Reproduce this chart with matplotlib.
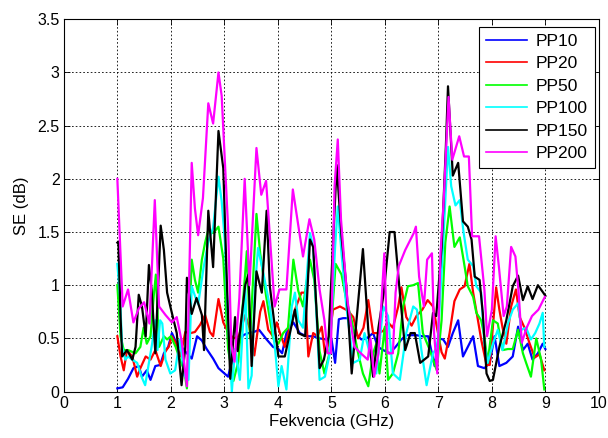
import matplotlib
matplotlib.use("Agg")
import matplotlib.pyplot as plt

plt.rcParams['font.family'] = ['Liberation Sans', 'DejaVu Sans']

# ---- data (frequency in GHz, SE in dB) ----
f_pp10 = [1.0, 1.1, 1.2, 1.3, 1.4, 1.46, 1.55, 1.62, 1.71, 1.8, 1.87, 1.95, 2.02, 2.11, 2.2, 2.3, 2.39, 2.49,
          2.58, 2.67, 2.79, 2.89, 2.98, 3.07, 3.17, 3.27, 3.35, 3.45, 3.55, 3.65, 3.79, 3.91, 4.01, 4.08, 4.16,
          4.29, 4.41, 4.53, 4.66, 4.78, 4.91, 5.0, 5.07, 5.14, 5.22, 5.31, 5.44, 5.56, 5.66, 5.78, 5.87, 5.97,
          6.09, 6.2, 6.31, 6.4, 6.5, 6.59, 6.7, 6.81, 6.93, 7.0, 7.09, 7.18, 7.27, 7.37, 7.46, 7.55, 7.65, 7.74,
          7.86, 7.96, 8.05, 8.14, 8.27, 8.39, 8.49, 8.58, 8.67, 8.76, 8.86, 8.95, 9.0]
se_pp10 = [0.03, 0.04, 0.12, 0.22, 0.24, 0.14, 0.2, 0.11, 0.24, 0.25, 0.36, 0.42, 0.55, 0.45, 0.42, 0.36, 0.31, 0.52,
           0.48, 0.4, 0.31, 0.22, 0.18, 0.14, 0.35, 0.45, 0.53, 0.55, 0.56, 0.58, 0.49, 0.42, 0.4, 0.36, 0.55,
           0.65, 0.55, 0.52, 0.52, 0.5, 0.49, 0.5, 0.27, 0.68, 0.69, 0.69, 0.55, 0.49, 0.5, 0.55, 0.42, 0.39,
           0.36, 0.42, 0.49, 0.53, 0.53, 0.53, 0.52, 0.52, 0.24, 0.5, 0.49, 0.42, 0.55, 0.67, 0.33, 0.42, 0.52, 0.24,
           0.22, 0.27, 0.52, 0.24, 0.27, 0.33, 0.61, 0.39, 0.45, 0.3, 0.36, 0.45, 0.4]

f_pp20 = [1.0, 1.06, 1.12, 1.18, 1.28, 1.37, 1.43, 1.53, 1.62, 1.71, 1.81, 1.9, 1.96, 2.02, 2.1, 2.18, 2.27, 2.37,
          2.45, 2.55, 2.64, 2.73, 2.79, 2.89, 2.98, 3.07, 3.17, 3.27, 3.39, 3.47, 3.56, 3.67, 3.73, 3.82, 3.91,
          3.98, 4.04, 4.13, 4.22, 4.32, 4.44, 4.51, 4.57, 4.66, 4.74, 4.82, 4.88, 4.95, 5.03, 5.16, 5.31, 5.41,
          5.5, 5.6, 5.69, 5.78, 5.87, 5.97, 6.06, 6.15, 6.25, 6.31, 6.4, 6.5, 6.59, 6.7, 6.8, 6.9, 6.97, 7.06,
          7.12, 7.21, 7.3, 7.4, 7.49, 7.58, 7.65, 7.74, 7.8, 7.9, 7.96, 8.05, 8.08, 8.14, 8.2, 8.27, 8.36, 8.45,
          8.52, 8.61, 8.7, 8.8, 8.89, 8.98]
se_pp20 = [0.52, 0.33, 0.2, 0.39, 0.33, 0.14, 0.22, 0.33, 0.3, 0.39, 0.24, 0.38, 0.42, 0.52, 0.45, 0.33, 0.56, 0.55,
           0.56, 0.63, 0.72, 0.56, 0.52, 0.87, 0.65, 0.56, 0.5, 0.52, 0.72, 0.6, 0.34, 0.75, 0.85, 0.58, 0.52,
           0.65, 0.55, 0.42, 0.6, 0.77, 0.93, 0.93, 0.33, 0.55, 0.52, 0.61, 0.36, 0.45, 0.77, 0.8, 0.76, 0.7,
           0.5, 0.6, 0.86, 0.55, 0.55, 0.57, 0.65, 0.6, 0.8, 0.98, 0.7, 0.62, 0.71, 0.77, 0.86, 0.8, 0.61, 0.37,
           0.31, 0.55, 0.85, 0.96, 0.99, 1.2, 0.93, 0.67, 0.49, 0.25, 0.25, 0.8, 0.98, 0.77, 0.6, 0.45, 0.8, 0.96,
           0.7, 0.6, 0.46, 0.32, 0.35, 0.2]

f_pp50 = [1.0, 1.06, 1.12, 1.2, 1.34, 1.43, 1.49, 1.55, 1.62, 1.68, 1.72, 1.78, 1.87, 1.93, 2.0, 2.09, 2.17, 2.25,
          2.3, 2.39, 2.45, 2.51, 2.58, 2.64, 2.7, 2.79, 2.89, 2.98, 3.07, 3.17, 3.26, 3.35, 3.42, 3.48, 3.6, 3.67,
          3.78, 3.91, 4.01, 4.1, 4.19, 4.29, 4.38, 4.47, 4.6, 4.68, 4.78, 4.87, 4.96, 5.08, 5.19, 5.28, 5.38, 5.5,
          5.59, 5.69, 5.78, 5.84, 5.9, 6.0, 6.06, 6.15, 6.25, 6.34, 6.43, 6.53, 6.62, 6.71, 6.84, 6.97, 7.06, 7.13,
          7.21, 7.3, 7.4, 7.47, 7.55, 7.65, 7.71, 7.8, 7.86, 7.92, 8.02, 8.11, 8.2, 8.3, 8.39, 8.49, 8.58, 8.64,
          8.73, 8.83, 8.92, 8.98]
se_pp50 = [1.0, 0.52, 0.39, 0.39, 0.36, 0.42, 0.6, 0.45, 0.52, 0.9, 1.1, 0.42, 0.52, 0.49, 0.52, 0.42, 0.3, 0.2,
           0.03, 1.24, 1.05, 0.93, 1.24, 1.4, 1.52, 1.49, 1.55, 1.25, 0.4, 0.1, 0.28, 0.85, 1.32, 0.5, 1.67, 1.3,
           0.9, 0.5, 0.45, 0.55, 0.6, 1.24, 0.95, 0.8, 1.24, 1.05, 0.38, 0.17, 0.35, 1.2, 1.1, 0.86, 0.67, 0.36,
           0.17, 0.05, 0.36, 0.45, 0.17, 0.61, 0.11, 0.17, 0.36, 0.8, 0.99, 1.0, 1.02, 0.55, 0.39, 0.2, 0.67, 1.4,
           1.74, 1.36, 1.45, 1.24, 0.99, 0.89, 0.74, 0.67, 0.52, 0.27, 0.67, 0.64, 0.39, 0.4, 0.4, 0.58, 0.36, 0.27,
           0.14, 0.5, 0.3, 0.02]

f_pp100 = [1.0, 1.05, 1.09, 1.15, 1.2, 1.28, 1.37, 1.46, 1.52, 1.58, 1.65, 1.71, 1.75, 1.8, 1.84, 1.9, 1.99, 2.08,
           2.17, 2.25, 2.33, 2.39, 2.45, 2.51, 2.61, 2.7, 2.79, 2.89, 2.95, 3.01, 3.07, 3.14, 3.2, 3.29, 3.39,
           3.45, 3.51, 3.57, 3.63, 3.73, 3.85, 3.95, 4.01, 4.07, 4.16, 4.26, 4.32, 4.38, 4.47, 4.6, 4.66, 4.78,
           4.88, 4.97, 5.07, 5.12, 5.19, 5.28, 5.41, 5.53, 5.62, 5.75, 5.84, 5.97, 6.06, 6.15, 6.28, 6.4, 6.53,
           6.6, 6.68, 6.78, 6.9, 6.98, 7.08, 7.18, 7.24, 7.32, 7.4, 7.47, 7.55, 7.65, 7.71, 7.8, 7.86, 7.92, 8.02,
           8.11, 8.2, 8.3, 8.39, 8.49, 8.55, 8.64, 8.73, 8.81, 8.89, 8.95, 8.98]
se_pp100 = [1.2, 0.89, 0.42, 0.3, 0.33, 0.3, 0.27, 0.13, 0.06, 0.24, 0.45, 0.67, 0.39, 0.67, 0.64, 0.3, 0.17, 0.2,
            0.49, 0.15, 0.11, 0.99, 0.9, 0.82, 1.16, 1.41, 1.54, 2.02, 1.79, 1.41, 0.66, 0.0, 0.4, 0.11, 1.0,
            0.03, 0.15, 0.97, 1.35, 1.11, 0.8, 0.39, 0.05, 0.24, 0.02, 0.8, 0.93, 0.67, 0.6, 1.49, 1.36, 0.11,
            0.14, 0.36, 1.36, 1.74, 1.3, 0.8, 0.27, 0.3, 0.55, 0.3, 0.17, 0.8, 0.71, 0.17, 0.11, 0.55, 0.8,
            0.77, 0.4, 0.06, 0.36, 0.42, 1.3, 2.3, 1.93, 1.75, 1.8, 1.5, 1.24, 1.18, 0.99, 0.93, 0.45, 0.27, 0.45,
            0.58, 0.39, 0.64, 0.77, 0.83, 0.58, 0.6, 0.49, 0.55, 0.64, 0.74, 0.42]

f_pp150 = [1.0, 1.02, 1.06, 1.09, 1.18, 1.28, 1.34, 1.4, 1.46, 1.53, 1.59, 1.64, 1.71, 1.81, 1.87, 1.93, 1.99, 2.11,
           2.2, 2.27, 2.3, 2.39, 2.48, 2.58, 2.62, 2.7, 2.79, 2.89, 2.98, 3.04, 3.11, 3.2, 3.25, 3.39, 3.45, 3.51,
           3.6, 3.7, 3.79, 3.85, 3.95, 4.01, 4.13, 4.32, 4.38, 4.51, 4.6, 4.66, 4.78, 4.86, 4.95, 5.1, 5.19, 5.28,
           5.38, 5.47, 5.59, 5.69, 5.78, 5.88, 5.98, 6.09, 6.18, 6.28, 6.38, 6.48, 6.56, 6.66, 6.81, 6.9, 6.96,
           7.06, 7.14, 7.18, 7.27, 7.37, 7.46, 7.55, 7.62, 7.68, 7.77, 7.83, 7.9, 7.96, 8.02, 8.14, 8.27, 8.39,
           8.49, 8.58, 8.67, 8.76, 8.86, 8.96, 9.0]
se_pp150 = [1.4, 1.41, 0.7, 0.33, 0.39, 0.3, 0.42, 0.91, 0.8, 0.52, 1.19, 0.96, 0.36, 1.56, 1.33, 0.93, 0.8, 0.55,
            0.06, 0.42, 1.07, 0.73, 0.88, 0.72, 0.39, 1.7, 1.17, 2.45, 2.1, 1.13, 0.12, 0.7, 0.38, 1.0, 1.1, 0.24,
            1.13, 0.93, 1.7, 0.99, 0.58, 0.33, 0.33, 0.77, 0.55, 0.52, 1.43, 1.36, 0.22, 0.3, 0.52, 2.13, 1.46, 0.99,
            0.17, 0.67, 1.34, 0.58, 0.14, 0.6, 0.93, 1.5, 1.5, 0.93, 0.39, 0.55, 0.55, 0.27, 0.33, 0.74, 0.71,
            1.35, 2.3, 2.87, 2.03, 2.15, 1.6, 1.55, 1.43, 1.08, 1.05, 0.74, 0.17, 0.1, 0.11, 0.42, 0.67, 0.99,
            1.09, 0.86, 0.99, 0.87, 1.0, 0.93, 0.9]

f_pp200 = [1.0, 1.1, 1.2, 1.3, 1.4, 1.5, 1.6, 1.7, 1.78, 1.9, 2.02, 2.11, 2.2, 2.3, 2.39, 2.45, 2.51, 2.6, 2.7,
           2.79, 2.89, 2.95, 3.07, 3.13, 3.19, 3.28, 3.38, 3.47, 3.6, 3.69, 3.78, 3.94, 4.03, 4.16, 4.28, 4.47,
           4.59, 4.68, 4.78, 4.87, 4.93, 4.99, 5.06, 5.12, 5.18, 5.3, 5.43, 5.55, 5.68, 5.73, 5.8, 5.88, 5.99,
           6.05, 6.15, 6.2, 6.26, 6.38, 6.54, 6.58, 6.64, 6.73, 6.79, 6.88, 6.92, 6.98, 7.04, 7.1, 7.19, 7.26,
           7.39, 7.48, 7.57, 7.63, 7.76, 7.86, 7.91, 8.0, 8.07, 8.13, 8.22, 8.28, 8.36, 8.44, 8.5, 8.56, 8.65,
           8.75, 8.87, 8.99]
se_pp200 = [2.0, 0.8, 0.96, 0.65, 0.78, 0.84, 0.64, 1.8, 0.8, 0.72, 0.65, 0.7, 0.48, 0.05, 2.15, 1.72, 1.47, 1.82,
            2.71, 2.52, 3.0, 2.78, 1.54, 0.44, 0.28, 0.88, 2.0, 1.0, 2.29, 1.85, 1.98, 0.8, 0.96, 0.96, 1.9, 1.27,
            1.62, 1.43, 0.96, 0.67, 0.36, 0.36, 1.93, 2.37, 1.62, 0.86, 0.42, 0.36, 0.3, 0.5, 0.14, 0.36, 1.3,
            0.36, 0.36, 0.93, 1.18, 1.33, 1.49, 1.55, 1.08, 0.8, 1.24, 1.3, 0.55, 0.17, 1.3, 1.8, 2.77, 2.18,
            2.4, 2.21, 2.21, 1.46, 1.46, 0.96, 0.52, 0.77, 1.46, 1.18, 0.71, 0.8, 1.36, 1.27, 0.93, 0.46, 0.6,
            0.71, 0.77, 0.89]

labels = ['PP10', 'PP20', 'PP50', 'PP100', 'PP150', 'PP200']
colors = ['#0000ff', '#ff0000', '#00ff00', '#00ffff', '#000000', '#ff00ff']
x_ticks = [0, 1, 2, 3, 4, 5, 6, 7, 8, 9, 10]
y_ticks = [0, 0.5, 1, 1.5, 2, 2.5, 3, 3.5]
y_ticklabels = ['0', '0.5', '1', '1.5', '2', '2.5', '3', '3.5']

series = [(f_pp10, se_pp10), (f_pp20, se_pp20), (f_pp50, se_pp50),
          (f_pp100, se_pp100), (f_pp150, se_pp150), (f_pp200, se_pp200)]

fig = plt.figure(figsize=(6.08, 4.38), dpi=100)
ax = fig.add_axes([0.105, 0.106, 0.880, 0.85])

for (fx, sy), lab, col in zip(series, labels, colors):
    assert len(fx) == len(sy), lab
    ax.plot(fx, sy, color=col, lw=1.6, label=lab)

ax.set_xlim(0, 10)
ax.set_ylim(0, 3.5)
ax.set_xticks(x_ticks)
ax.set_yticks(y_ticks)
ax.set_yticklabels(y_ticklabels)
ax.tick_params(direction='in', top=True, right=True, labelsize=11.5, length=4, width=0.6, pad=3)
ax.grid(True, color='black', linestyle=(0, (2, 2.5)), linewidth=0.6)
for s in ax.spines.values():
    s.set_linewidth(0.8)
ax.set_xlabel('Fekvencia (GHz)', fontsize=12, labelpad=2)
ax.set_ylabel('SE (dB)', fontsize=12, labelpad=6)

leg = ax.legend(loc='upper right', fontsize=12.5, frameon=True, fancybox=False, framealpha=1,
                edgecolor='black', handlelength=2.4, handletextpad=0.5, borderpad=0.4,
                labelspacing=0.42, borderaxespad=0, bbox_to_anchor=(0.993, 0.98))
leg.get_frame().set_linewidth(0.8)
for l in leg.get_lines():
    l.set_linewidth(1.2)

fig.savefig('out.png', dpi=100)
